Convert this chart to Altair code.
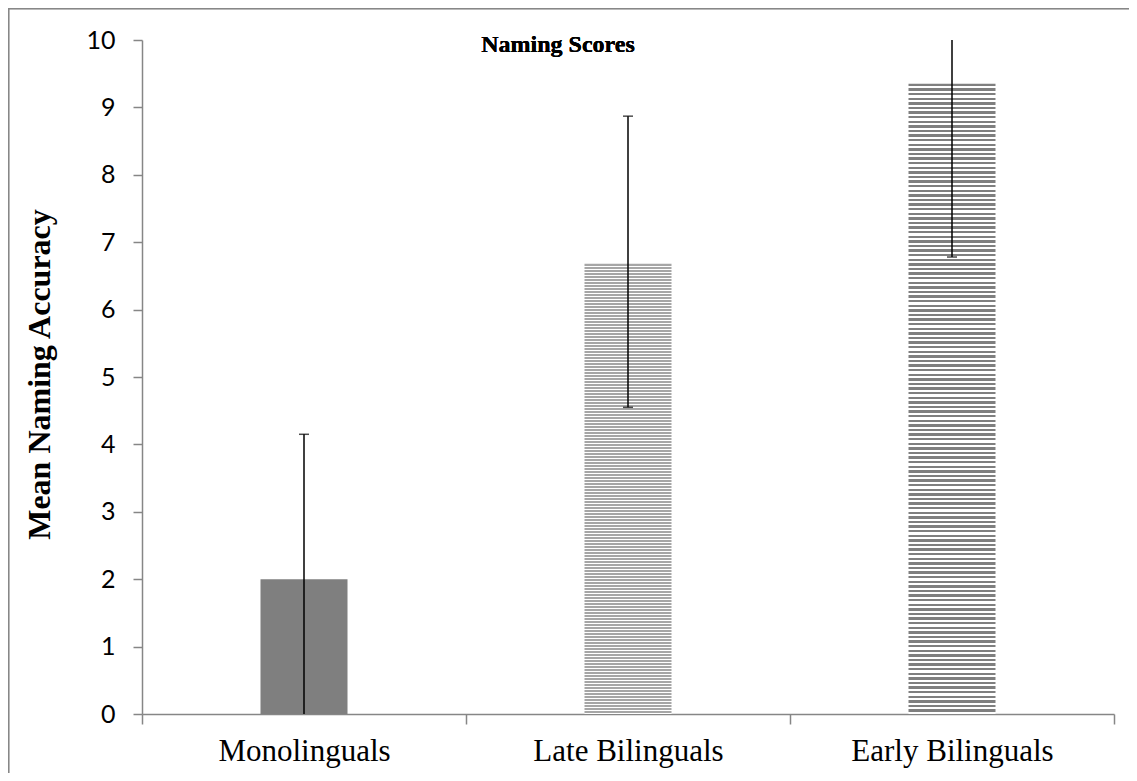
import altair as alt
import pandas as pd

groups = ["Monolinguals", "Late Bilinguals", "Early Bilinguals"]
means = [2.0, 6.68, 9.35]
lower = [-0.15, 4.55, 6.78]
upper = [4.15, 8.87, 11.9]

y_ticks = list(range(0, 11))

df = pd.DataFrame({"group": groups, "mean": means, "lo": lower, "hi": upper})

W, H = 972, 674
PX_PER_UNIT = H / 10.0


def stripes(value, pitch, frac, color):
    n = max(1, round(value * PX_PER_UNIT / pitch))
    stops = []
    for i in range(n):
        a = i / n
        b = (i + frac) / n
        c = (i + 1) / n
        stops += [
            {"offset": a, "color": color},
            {"offset": b, "color": color},
            {"offset": b, "color": "#ffffff"},
            {"offset": c, "color": "#ffffff"},
        ]
    return {"gradient": "linear", "x1": 0, "y1": 0, "x2": 0, "y2": 1, "stops": stops}


x_enc = alt.X(
    "group:N",
    sort=groups,
    scale=alt.Scale(domain=groups, paddingInner=0, paddingOuter=0),
    axis=alt.Axis(
        title=None,
        labelFont="Liberation Serif",
        labelFontSize=31,
        labelColor="#000000",
        labelAngle=0,
        labelPadding=12,
        labelBaseline="top",
        labelLimit=0,
        domainColor="#868686",
        domainWidth=1.5,
        tickColor="#868686",
        tickWidth=1.5,
        tickSize=10,
        tickBand="extent",
        grid=False,
    ),
)
y_scale = alt.Scale(domain=[0, 10], nice=False)
y_enc = alt.Y(
    "mean:Q",
    scale=y_scale,
    axis=alt.Axis(
        title="Mean Naming Accuracy",
        titleFont="Liberation Serif",
        titleFontSize=32,
        titleFontWeight="bold",
        titleColor="#000000",
        titleX=-103,
        titleY=H / 2 - 3,
        titleAngle=-90,
        titleAlign="center",
        titleBaseline="middle",
        values=y_ticks,
        format="d",
        labelFont="Lato",
        labelFontSize=25,
        labelColor="#000000",
        labelPadding=18,
        domainColor="#868686",
        domainWidth=1.5,
        tickColor="#868686",
        tickWidth=1.5,
        tickSize=9,
        grid=False,
    ),
)

base = alt.Chart(df)

bar_mono = base.transform_filter(alt.datum.group == groups[0]).mark_bar(
    color="#7f7f7f", size=87
).encode(x=x_enc, y=y_enc)
bar_late = base.transform_filter(alt.datum.group == groups[1]).mark_bar(
    color=stripes(means[1], 3.0, 0.67, "#a6a6a6"), size=87
).encode(x=x_enc, y=y_enc)
bar_early = base.transform_filter(alt.datum.group == groups[2]).mark_bar(
    color=stripes(means[2], 4.6, 0.5, "#7f7f7f"), size=87
).encode(x=x_enc, y=y_enc)

err = base.mark_rule(color="#000000", strokeWidth=1.5, clip=True).encode(
    x=x_enc, y=alt.Y("lo:Q", scale=y_scale), y2="hi:Q"
)
cap_lo = base.mark_tick(color="#000000", thickness=1.5, size=10, clip=True).encode(
    x=x_enc, y=alt.Y("lo:Q", scale=y_scale)
)
cap_hi = base.mark_tick(color="#000000", thickness=1.5, size=10, clip=True).encode(
    x=x_enc, y=alt.Y("hi:Q", scale=y_scale)
)

title = base.mark_text(
    text="Naming Scores",
    font="Liberation Serif",
    fontSize=24,
    fontWeight="bold",
    color="#000000",
    align="center",
    baseline="alphabetic",
).encode(x=alt.value(416), y=alt.value(12))

border = base.mark_rect(
    fill=None, fillOpacity=0, stroke="#878787", strokeWidth=2.5, clip=False
).encode(
    x=alt.value(-134),
    x2=alt.value(W + 60),
    y=alt.value(-32),
    y2=alt.value(H + 120),
)

chart = (
    alt.layer(border, bar_mono, bar_late, bar_early, err, cap_lo, cap_hi, title)
    .properties(
        width=W,
        height=H,
        autosize=alt.AutoSizeParams(type="none"),
        padding={"left": 134, "top": 32, "right": 15, "bottom": 59},
        background="#ffffff",
    )
    .configure_view(stroke=None)
)

chart.save("out.html", embed_options={"renderer": "svg", "actions": False})
